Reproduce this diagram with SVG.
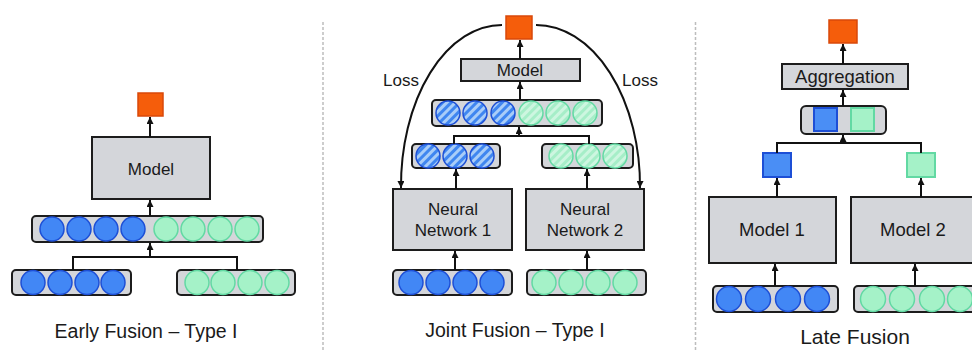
<svg xmlns="http://www.w3.org/2000/svg" width="972" height="350" viewBox="0 0 972 350">
  <defs>
    <marker id="ah" viewBox="0 0 10 10" refX="10" refY="5" markerWidth="7" markerHeight="7" markerUnits="userSpaceOnUse" orient="auto">
      <path d="M0,0 L10,5 L0,10 z" fill="#111"/>
    </marker>
    <pattern id="hatchBlue" width="6" height="6" patternUnits="userSpaceOnUse" patternTransform="rotate(45)">
      <rect width="6" height="6" fill="#a9cdf8"/>
      <rect width="3" height="6" fill="#3f86f0"/>
    </pattern>
    <pattern id="hatchGreen" width="6" height="6" patternUnits="userSpaceOnUse" patternTransform="rotate(45)">
      <rect width="6" height="6" fill="#a6eec8"/>
      <rect width="3" height="6" fill="#cdf6e0"/>
    </pattern>
    <style>
      .box { fill: #d4d6da; stroke: #1c1c1c; stroke-width: 2; }
      .bar { fill: #d4d6da; stroke: #1c1c1c; stroke-width: 2; }
      .out { fill: #f55d0b; stroke: #d9480a; stroke-width: 1.5; }
      .b { fill: #4287f5; stroke: #1d4fd6; stroke-width: 1.5; }
      .g { fill: #a5f2c8; stroke: #62d9a3; stroke-width: 1.5; }
      .bh { fill: url(#hatchBlue); stroke: #1d4fd6; stroke-width: 1.5; }
      .gh { fill: url(#hatchGreen); stroke: #62d9a3; stroke-width: 1.5; }
      .bs { fill: #4a8ef5; stroke: #1d4fd6; stroke-width: 2; }
      .gs { fill: #a5f2c8; stroke: #62d9a3; stroke-width: 2; }
      .ln { fill: none; stroke: #111; stroke-width: 2; }
      .ar { fill: none; stroke: #111; stroke-width: 2; marker-end: url(#ah); }
      .t { font-family: "Liberation Sans", Arial, sans-serif; fill: #1a1a1a; text-anchor: middle; }
      .div { stroke: #bdbdbd; stroke-width: 1.5; stroke-dasharray: 3 2; }
    </style>
  </defs>

  <!-- panel dividers -->
  <line class="div" x1="323" y1="22" x2="323" y2="350"/>
  <line class="div" x1="695.5" y1="22" x2="695.5" y2="350"/>

  <!-- ===== Early fusion ===== -->
  <g id="ef-output"><rect class="out" x="138" y="93" width="25" height="23"/></g>
  <g id="ef-model">
    <rect class="box" x="92" y="137" width="118" height="62"/>
    <text class="t" x="151" y="175" font-size="17">Model</text>
  </g>
  <g id="ef-concat">
    <rect class="bar" x="32" y="216" width="231" height="26" rx="4"/>
    <circle class="b" cx="52" cy="229" r="12"/>
    <circle class="b" cx="79" cy="229" r="12"/>
    <circle class="b" cx="106" cy="229" r="12"/>
    <circle class="b" cx="133" cy="229" r="12"/>
    <circle class="g" cx="166" cy="229" r="12"/>
    <circle class="g" cx="193" cy="229" r="12"/>
    <circle class="g" cx="220" cy="229" r="12"/>
    <circle class="g" cx="247" cy="229" r="12"/>
  </g>
  <g id="ef-input1">
    <rect class="bar" x="12" y="270" width="119" height="25" rx="4"/>
    <circle class="b" cx="33" cy="282.5" r="12"/>
    <circle class="b" cx="60" cy="282.5" r="12"/>
    <circle class="b" cx="87" cy="282.5" r="12"/>
    <circle class="b" cx="113" cy="282.5" r="12"/>
  </g>
  <g id="ef-input2">
    <rect class="bar" x="177" y="270" width="118" height="25" rx="4"/>
    <circle class="g" cx="197" cy="282.5" r="12"/>
    <circle class="g" cx="223" cy="282.5" r="12"/>
    <circle class="g" cx="250" cy="282.5" r="12"/>
    <circle class="g" cx="277" cy="282.5" r="12"/>
  </g>
  <text class="t" x="146" y="338" font-size="19.5">Early Fusion – Type I</text>

  <!-- ===== Joint fusion ===== -->
  <g id="jf-output"><rect class="out" x="506" y="16" width="26" height="23"/></g>
  <g id="jf-model">
    <rect class="box" x="461" y="59" width="119" height="22"/>
    <text class="t" x="520" y="76" font-size="17">Model</text>
  </g>
  <g id="jf-concat">
    <rect class="bar" x="432" y="100" width="170" height="26" rx="4"/>
    <circle class="bh" cx="448" cy="113" r="12"/>
    <circle class="bh" cx="475" cy="113" r="12"/>
    <circle class="bh" cx="503" cy="113" r="12"/>
    <circle class="gh" cx="531" cy="113" r="12"/>
    <circle class="gh" cx="558" cy="113" r="12"/>
    <circle class="gh" cx="585" cy="113" r="12"/>
  </g>
  <g id="jf-feat1">
    <rect class="bar" x="412" y="144" width="88" height="24" rx="4"/>
    <circle class="bh" cx="428" cy="156" r="12"/>
    <circle class="bh" cx="455" cy="156" r="12"/>
    <circle class="bh" cx="482" cy="156" r="12"/>
  </g>
  <g id="jf-feat2">
    <rect class="bar" x="542" y="144" width="91" height="24" rx="4"/>
    <circle class="gh" cx="561" cy="156" r="12"/>
    <circle class="gh" cx="588" cy="156" r="12"/>
    <circle class="gh" cx="615" cy="156" r="12"/>
  </g>
  <g id="jf-nn1">
    <rect class="box" x="393" y="189" width="119" height="61"/>
    <text class="t" x="453" y="215" font-size="17">Neural</text>
    <text class="t" x="453" y="236" font-size="17">Network 1</text>
  </g>
  <g id="jf-nn2">
    <rect class="box" x="526" y="189" width="118" height="61"/>
    <text class="t" x="585" y="215" font-size="17">Neural</text>
    <text class="t" x="585" y="236" font-size="17">Network 2</text>
  </g>
  <g id="jf-input1">
    <rect class="bar" x="393" y="270" width="119" height="25" rx="4"/>
    <circle class="b" cx="411" cy="282.5" r="12"/>
    <circle class="b" cx="438" cy="282.5" r="12"/>
    <circle class="b" cx="465" cy="282.5" r="12"/>
    <circle class="b" cx="492" cy="282.5" r="12"/>
  </g>
  <g id="jf-input2">
    <rect class="bar" x="527" y="270" width="119" height="25" rx="4"/>
    <circle class="g" cx="544" cy="282.5" r="12"/>
    <circle class="g" cx="571" cy="282.5" r="12"/>
    <circle class="g" cx="598" cy="282.5" r="12"/>
    <circle class="g" cx="625" cy="282.5" r="12"/>
  </g>
  <text class="t" x="401" y="86" font-size="17">Loss</text>
  <text class="t" x="640" y="86" font-size="17">Loss</text>
  <text class="t" x="515" y="337" font-size="19.5">Joint Fusion – Type I</text>

  <!-- ===== Late fusion ===== -->
  <g id="lf-output"><rect class="out" x="829" y="20" width="28" height="23"/></g>
  <g id="lf-aggregation">
    <rect class="box" x="782" y="64" width="126" height="25"/>
    <text class="t" x="845" y="83" font-size="18.5">Aggregation</text>
  </g>
  <g id="lf-scores">
    <rect class="bar" x="801" y="106" width="85" height="28" rx="5"/>
    <rect class="bs" x="814" y="108" width="23" height="23"/>
    <rect class="gs" x="851" y="108" width="23" height="23"/>
  </g>
  <g id="lf-score1"><rect class="bs" x="763" y="153" width="28" height="24"/></g>
  <g id="lf-score2"><rect class="gs" x="907" y="153" width="28" height="24"/></g>
  <g id="lf-model1">
    <rect class="box" x="709" y="197" width="127" height="66"/>
    <text class="t" x="772" y="236" font-size="18.5">Model 1</text>
  </g>
  <g id="lf-model2">
    <rect class="box" x="851" y="197" width="127" height="66"/>
    <text class="t" x="913" y="236" font-size="18.5">Model 2</text>
  </g>
  <g id="lf-input1">
    <rect class="bar" x="713" y="286" width="125" height="26" rx="4"/>
    <circle class="b" cx="729" cy="299" r="12.5"/>
    <circle class="b" cx="758" cy="299" r="12.5"/>
    <circle class="b" cx="788" cy="299" r="12.5"/>
    <circle class="b" cx="817" cy="299" r="12.5"/>
  </g>
  <g id="lf-input2">
    <rect class="bar" x="854" y="286" width="125" height="26" rx="4"/>
    <circle class="g" cx="873" cy="299" r="12.5"/>
    <circle class="g" cx="902" cy="299" r="12.5"/>
    <circle class="g" cx="932" cy="299" r="12.5"/>
    <circle class="g" cx="960" cy="299" r="12.5"/>
  </g>
  <text class="t" x="855" y="344" font-size="21">Late Fusion</text>

  <!-- ===== connectors ===== -->
  <g id="connectors">
    <!-- early fusion -->
    <line class="ar" x1="150" y1="137" x2="150" y2="117"/>
    <line class="ar" x1="150" y1="216" x2="150" y2="200"/>
    <polyline class="ln" points="73,270 73,257 237,257 237,270"/>
    <line class="ar" x1="150" y1="257" x2="150" y2="243"/>
    <!-- joint fusion -->
    <line class="ar" x1="520" y1="59" x2="520" y2="40"/>
    <line class="ar" x1="520" y1="100" x2="520" y2="82"/>
    <polyline class="ln" points="454,144 454,136 589,136 589,144"/>
    <line class="ar" x1="519" y1="136" x2="519" y2="127"/>
    <line class="ar" x1="456" y1="189" x2="456" y2="169"/>
    <line class="ar" x1="587" y1="189" x2="587" y2="169"/>
    <line class="ar" x1="455" y1="270" x2="455" y2="251"/>
    <line class="ar" x1="587" y1="270" x2="587" y2="251"/>
    <path class="ar" d="M502,25 A101,161 0 0 0 401,188"/>
    <path class="ar" d="M536,25 A104,161 0 0 1 640,188"/>
    <!-- late fusion -->
    <line class="ar" x1="843" y1="64" x2="843" y2="44"/>
    <line class="ar" x1="843" y1="106" x2="843" y2="90"/>
    <polyline class="ln" points="777,153 777,143 921,143 921,153"/>
    <line class="ar" x1="843" y1="143" x2="843" y2="135"/>
    <line class="ar" x1="777" y1="197" x2="777" y2="178"/>
    <line class="ar" x1="921" y1="197" x2="921" y2="178"/>
    <line class="ar" x1="775" y1="286" x2="775" y2="264"/>
    <line class="ar" x1="915" y1="286" x2="915" y2="264"/>
  </g>
</svg>
